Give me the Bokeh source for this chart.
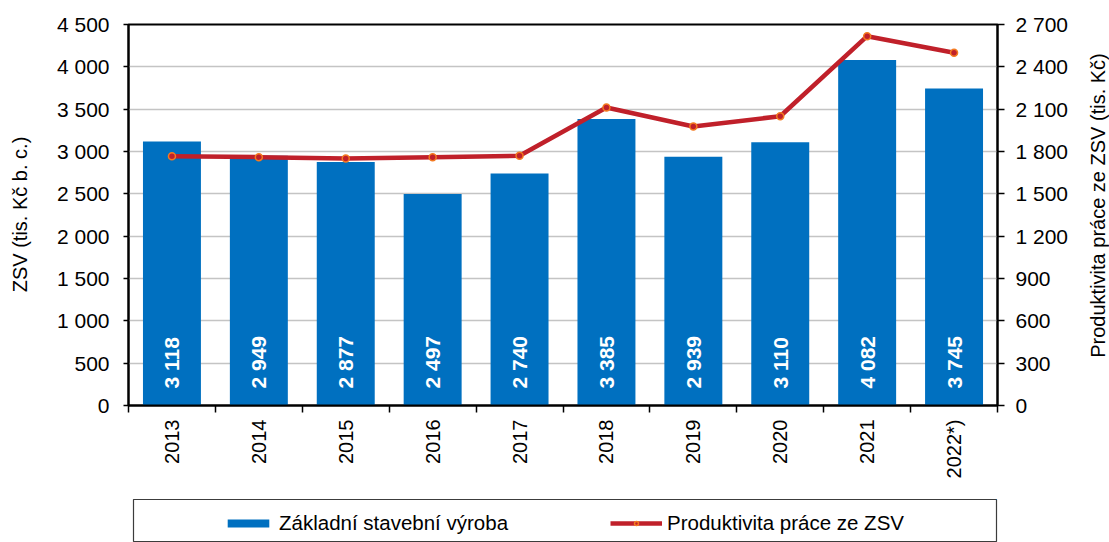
import math
from bokeh.plotting import figure
from bokeh.layouts import column, row
from bokeh.models import (Range1d, LinearAxis, FixedTicker, CustomJSTickFormatter,
                          ColumnDataSource, Legend, LegendItem, Label)
from bokeh.core.properties import value
from bokeh.embed import file_html
from bokeh.resources import INLINE

# ---- data ----
years = ["2013", "2014", "2015", "2016", "2017", "2018", "2019", "2020", "2021", "2022*)"]
zsv = [3118, 2949, 2877, 2497, 2740, 3385, 2939, 3110, 4082, 3745]
productivity = [1767, 1760, 1750, 1760, 1770, 2112, 1977, 2050, 2617, 2500]
left_ticks = [0, 500, 1000, 1500, 2000, 2500, 3000, 3500, 4000, 4500]
right_ticks = [0, 300, 600, 900, 1200, 1500, 1800, 2100, 2400, 2700]
bar_name = "Základní stavební výroba"
line_name = "Produktivita práce ze ZSV"
left_title = "ZSV (tis. Kč b. c.)"
right_title = "Produktivita práce ze ZSV (tis. Kč)"

FONT = "Liberation Sans"
BAR_COLOR = "#0070C0"
LINE_COLOR = "#C0202A"
MARK_LINE = "#F47A20"
GRID = "#C4C4C4"
TICK_FS = "21px"

xs = [i + 0.5 for i in range(len(years))]
src = ColumnDataSource(dict(
    x=xs, zsv=zsv, prod=productivity,
    lbl=[f"{v:,}".replace(",", " ") for v in zsv],
))

TOP_H = 499
LEFT_W = 40
RIGHT_W = 30
FRAME_BOTTOM = 405  # page y of the plot frame's bottom edge (frames of a row are aligned)

p = figure(width=1109 - LEFT_W - RIGHT_W, height=TOP_H, output_backend="svg", toolbar_location=None,
           x_range=Range1d(0, len(years)), y_range=Range1d(left_ticks[0], left_ticks[-1]),
           min_border_left=88, min_border_right=82, min_border_top=24, min_border_bottom=94,
           outline_line_color="black", outline_line_width=2)
p.extra_y_ranges = {"prod": Range1d(right_ticks[0], right_ticks[-1])}

thousands = CustomJSTickFormatter(code=r"""
const s = Math.round(tick).toString();
return s.replace(/\B(?=(\d{3})+(?!\d))/g, " ");
""")

# x axis
xa = p.xaxis[0]
xa.ticker = FixedTicker(ticks=xs, minor_ticks=list(range(len(years) + 1)))
xa.formatter = CustomJSTickFormatter(args=dict(years=years), code="return years[Math.floor(tick)];")
xa.major_label_orientation = math.pi / 2
xa.major_tick_out = 0
xa.major_tick_in = 0
xa.minor_tick_out = 7
xa.minor_tick_in = 0
xa.minor_tick_line_color = "black"
xa.minor_tick_line_width = 1.5
xa.major_label_standoff = 7
xa.axis_line_color = "black"
xa.axis_line_width = 2
xa.major_label_text_font = FONT
xa.major_label_text_font_size = "20px"
xa.major_label_text_color = "black"

# left y axis
ya = p.yaxis[0]
ya.ticker = FixedTicker(ticks=left_ticks)
ya.formatter = thousands
ya.major_tick_out = 5
ya.major_tick_in = 0
ya.minor_tick_out = 0
ya.minor_tick_in = 0
ya.major_tick_line_width = 1.5
ya.axis_line_color = "black"
ya.axis_line_width = 2
ya.major_label_standoff = 14
ya.major_label_text_font = FONT
ya.major_label_text_font_size = TICK_FS
ya.major_label_text_color = "black"

# right y axis
ra = LinearAxis(y_range_name="prod", ticker=FixedTicker(ticks=right_ticks), formatter=thousands)
ra.major_tick_out = 7
ra.major_tick_in = 0
ra.minor_tick_out = 0
ra.minor_tick_in = 0
ra.major_tick_line_width = 1.5
ra.axis_line_color = "black"
ra.axis_line_width = 2
ra.major_label_standoff = 11
ra.major_label_text_font = FONT
ra.major_label_text_font_size = TICK_FS
ra.major_label_text_color = "black"
p.add_layout(ra, "right")

p.xgrid.visible = False
p.ygrid.grid_line_color = GRID
p.ygrid.grid_line_width = 1.5
p.ygrid.ticker = FixedTicker(ticks=left_ticks)

bar_style = dict(fill_color=BAR_COLOR, line_color=None)
line_style = dict(line_color=LINE_COLOR, line_width=4.5)
mark_style = dict(marker="circle", size=7, fill_color=LINE_COLOR, line_color=MARK_LINE, line_width=1.5)

p.vbar(x="x", top="zsv", width=0.667, source=src, **bar_style)
p.text(x="x", y=0, text="lbl", source=src, angle=math.pi / 2, text_align="left",
       text_baseline="middle", y_offset=-17, text_color="white",
       text_font=value(FONT), text_font_size="21px", text_font_style="bold")
p.line(x="x", y="prod", source=src, y_range_name="prod", **line_style)
p.scatter(x="x", y="prod", source=src, y_range_name="prod", **mark_style)


# ---- axis titles (both read bottom-to-top) in narrow side strips ----
def title_strip(width, text, x, y):
    f = figure(width=width, height=TOP_H, output_backend="svg", toolbar_location=None,
               x_range=Range1d(0, 1), y_range=Range1d(0, 1),
               x_axis_type=None, y_axis_type=None,
               min_border_left=0, min_border_right=0, min_border_top=0, min_border_bottom=0,
               outline_line_color=None)
    f.grid.visible = False
    f.add_layout(Label(x=x, y=y, x_units="screen", y_units="screen", text=text,
                       angle=math.pi / 2, text_align="center", text_baseline="middle",
                       text_font=FONT, text_font_size="20px", text_color="black"))
    return f


left_strip = title_strip(LEFT_W, left_title, 19, FRAME_BOTTOM - 214)
right_strip = title_strip(RIGHT_W, right_title, 18, FRAME_BOTTOM - 205)

# ---- legend strip (boxed) below the chart ----
# its ranges lie outside the data, so the series are not drawn here; they only feed the legend glyphs
lf = figure(width=1109, height=43, output_backend="svg", toolbar_location=None,
            x_range=Range1d(-3, -2), y_range=Range1d(-3, -2),
            x_axis_type=None, y_axis_type=None,
            min_border_left=133, min_border_right=113, min_border_top=0, min_border_bottom=0,
            outline_line_color="#3C3C3C", outline_line_width=1.2)
lf.grid.visible = False
lb = lf.vbar(x="x", top="zsv", width=0.667, source=src, **bar_style)
ll = lf.line(x="x", y="prod", source=src, **line_style)
lm = lf.scatter(x="x", y="prod", source=src, **mark_style)

legend = Legend(items=[LegendItem(label=bar_name, renderers=[lb]),
                       LegendItem(label=line_name, renderers=[ll, lm])],
                location=(89, 7), orientation="horizontal",
                padding=0, margin=0, spacing=31, label_width=300,
                glyph_width=52, glyph_height=10, label_standoff=5,
                border_line_alpha=0, background_fill_alpha=0,
                label_text_font=FONT, label_text_font_size="20.5px", label_text_color="black")
lf.add_layout(legend, "center")

layout = column(row(left_strip, p, right_strip, spacing=0), lf, spacing=0)
open("out.html", "w").write(file_html(layout, INLINE))
